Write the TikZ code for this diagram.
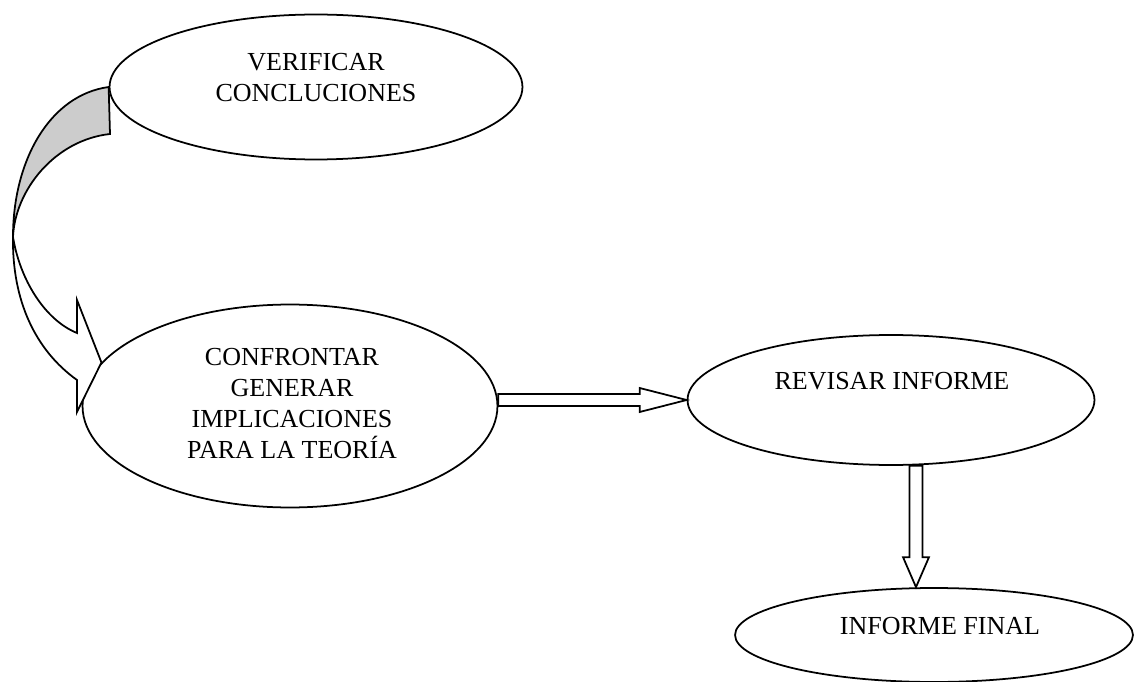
\documentclass[tikz,border=0pt]{standalone}
\usepackage{fontspec}
\setmainfont{Liberation Serif}
\usetikzlibrary{shapes.geometric, calc}

\begin{document}
\begin{tikzpicture}[x=0.02cm, y=-0.02cm]
\tikzset{ stage/.style={draw, ellipse, inner sep=0pt, line width=1pt, fill=white},
          stagetext/.style={align=center, inner sep=0pt,
                            font=\fontsize{14.8}{17.5}\selectfont},
          blockarrow/.style={draw, fill=white, line width=1pt, line join=miter},
          ribbonback/.style={draw, fill=gray!40, line width=1pt} };
\useasboundingbox (0,0) rectangle (1136,682);

% ellipses
\node[stage, minimum width=8.26cm, minimum height=2.9cm]  (verif) at (316,87)  {};
\node[stage, minimum width=8.3cm,  minimum height=4.06cm] (confr) at (290,406) {};
\node[stage, minimum width=8.14cm, minimum height=2.6cm]  (revis) at (891,400) {};
\node[stage, minimum width=7.96cm, minimum height=1.88cm] (finl)  at (934,635) {};

\node[stagetext] (verif-txt) at (316,77.5)  {VERIFICAR\\CONCLUCIONES};
\node[stagetext] (confr-txt) at (292,403.5) {CONFRONTAR\\GENERAR\\IMPLICACIONES\\PARA LA TEORÍA};
\node[stagetext] (revis-txt) at (892,381.5) {REVISAR INFORME};
\node[stagetext] (finl-txt)  at (940,626.5) {INFORME FINAL};

% curved arrow from verif to confr
\coordinate (ctail) at (verif.west);
\coordinate (ctip) at (confr.167);
\filldraw[ribbonback] (ctail) .. controls (50,95) and (13,160) .. (13,237)
   .. controls (15,190) and (55,140) .. (110,134) -- cycle;
\filldraw[blockarrow] (13,237) .. controls (12,300) and (35,350) .. (77,380)
   -- (77,412) -- (ctip) -- (77,300) -- (77,333)
   .. controls (45,320) and (20,280) .. (13,237) -- cycle;

% straight arrow from confr to revis
\coordinate (htip) at (revis.west);
\coordinate (hbase) at (htip -| confr.east);
\draw[blockarrow] (htip) -- ([xshift=-0.94cm, yshift=0.24cm]htip)
   -- ([xshift=-0.94cm, yshift=0.12cm]htip) -- ([yshift=0.12cm]hbase)
   -- ([yshift=-0.12cm]hbase) -- ([xshift=-0.94cm, yshift=-0.12cm]htip)
   -- ([xshift=-0.94cm, yshift=-0.24cm]htip) -- cycle;

% down arrow from revis to finl
\coordinate (vtip) at ([xshift=-0.36cm]finl.north);
\coordinate (vbase) at (vtip |- revis.south);
\draw[blockarrow] (vtip) -- ([xshift=-0.26cm, yshift=0.6cm]vtip)
   -- ([xshift=-0.13cm, yshift=0.6cm]vtip) -- ([xshift=-0.13cm]vbase)
   -- ([xshift=0.13cm]vbase) -- ([xshift=0.13cm, yshift=0.6cm]vtip)
   -- ([xshift=0.26cm, yshift=0.6cm]vtip) -- cycle;

\end{tikzpicture}
\end{document}
